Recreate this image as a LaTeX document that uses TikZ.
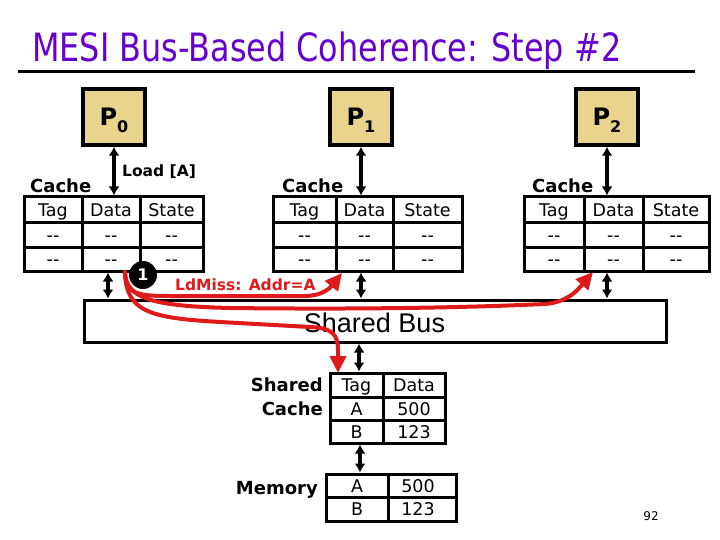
\documentclass[tikz,border=0pt]{standalone}
\usepackage{fontspec}
\setmainfont{DejaVu Sans}
\newfontfamily\arialf{Liberation Sans}
\usetikzlibrary{arrows.meta}
\definecolor{titlepurple}{RGB}{102,0,204}
\definecolor{ptan}{RGB}{232,212,140}
\definecolor{redarrow}{RGB}{222,26,26}
\tikzset{
  pbox/.style={draw, line width=3.5pt, fill=ptan, minimum width=62pt, minimum height=56pt, inner sep=0pt},
  ptext/.style={font=\bfseries\fontsize{24}{24}\selectfont, inner sep=0pt},
  tbl/.style={draw, line width=3pt, inner sep=0pt},
  tline/.style={line width=3pt},
  cell/.style={font=\fontsize{17.5}{17.5}\selectfont, inner sep=0pt, anchor=base},
  lbl/.style={font=\bfseries\fontsize{18}{18}\selectfont, inner sep=0pt},
  dbl/.style={line width=3.2pt, {Latex[length=9pt,width=11pt]}-{Latex[length=9pt,width=11pt]}},
  redarr/.style={draw=redarrow, line width=4pt, -{Triangle[length=17pt,width=16pt]}, line cap=round},
}
\newcommand\mycachetable[5]{%
  \pgfmathsetmacro\tw{#5-#2}%
  \pgfmathsetmacro\tcx{(#2+#5)/2}%
  \pgfmathsetmacro\ca{(#2+#3)/2}%
  \pgfmathsetmacro\cb{(#3+#4)/2}%
  \pgfmathsetmacro\cc{(#4+#5)/2}%
  \node[tbl, minimum width=\tw pt, minimum height=74pt] (#1) at (\tcx,234) {};
  \draw[tline] (#2,223) -- (#5,223) (#2,247) -- (#5,247) (#3,197) -- (#3,271) (#4,197) -- (#4,271);
  \node[cell] (#1-h1) at (\ca,216.5) {Tag};
  \node[cell] (#1-h2) at (\cb,216.5) {Data};
  \node[cell] (#1-h3) at (\cc,216.5) {State};
  \node[cell] (#1-a1) at (\ca,241.5) {-{}-};
  \node[cell] (#1-a2) at (\cb,241.5) {-{}-};
  \node[cell] (#1-a3) at (\cc,241.5) {-{}-};
  \node[cell] (#1-b1) at (\ca,265.5) {-{}-};
  \node[cell] (#1-b2) at (\cb,265.5) {-{}-};
  \node[cell] (#1-b3) at (\cc,265.5) {-{}-};
}
\begin{document}
\begin{tikzpicture}[x=1pt,y=-1pt]
\useasboundingbox (0,0) rectangle (720,540);
% title
\node[anchor=base west, text=titlepurple, font=\fontsize{39}{39}\selectfont, inner sep=0pt] (title) at (32,62) {\scalebox{0.817}[1]{MESI Bus-Based Coherence: Step \#2}};
\coordinate (tl0) at (18,72);
\coordinate (tl1) at (695,72);
\draw[line width=3pt] (tl0) -- (tl1);
% processors
\node[pbox] (p0) at (114,117) {};
\node[pbox] (p1) at (361,117) {};
\node[pbox] (p2) at (607,117) {};
\node[ptext] (p0t) at (114,120) {P\raisebox{-7pt}{\fontsize{16}{16}\selectfont 0}};
\node[ptext] (p1t) at (361,120) {P\raisebox{-7pt}{\fontsize{16}{16}\selectfont 1}};
\node[ptext] (p2t) at (607,120) {P\raisebox{-7pt}{\fontsize{16}{16}\selectfont 2}};
% caches
\mycachetable{c0}{24}{82}{140}{203}
\mycachetable{c1}{273}{336}{393}{462}
\mycachetable{c2}{524}{584}{643}{709}
\node[lbl, anchor=base west] (c0l) at (30,193) {Cache};
\node[lbl, anchor=base west] (c1l) at (282,193) {Cache};
\node[lbl, anchor=base west] (c2l) at (532,193) {Cache};
\node[font=\bfseries\fontsize{15.5}{15.5}\selectfont, inner sep=0pt, anchor=base west] (load) at (122,177) {Load [A]};
% P to cache arrows
\draw[dbl] (p0.south) -- (p0.south |- c0.north);
\draw[dbl] (p1.south) -- (p1.south |- c1.north);
\draw[dbl] (p2.south) -- (p2.south |- c2.north);
% bus
\node[draw, line width=3pt, minimum width=582pt, minimum height=42pt, inner sep=0pt] (bus) at (375,321) {};
\node[font=\arialf\fontsize{27}{27}\selectfont, inner sep=0pt, anchor=base] (bust) at (374.5,332) {Shared Bus};
\draw[dbl] ([xshift=-5.5pt]c0.south) -- ([xshift=-5.5pt]c0.south |- bus.north);
\draw[dbl] (p1.south |- c1.south) -- (p1.south |- bus.north);
\draw[dbl] (p2.south |- c2.south) -- (p2.south |- bus.north);
% shared cache
\node[tbl, minimum width=115pt, minimum height=70pt] (sc) at (387.5,408) {};
\draw[tline] (330,397) -- (445,397) (330,420) -- (445,420) (383,373) -- (383,443);
\node[cell] (sch1) at (356.5,391.5) {Tag};
\node[cell] (sch2) at (414,391.5) {Data};
\node[cell] (sca1) at (356.5,415) {A};
\node[cell] (sca2) at (414,415) {500};
\node[cell] (scb1) at (356.5,438) {B};
\node[cell] (scb2) at (414,438) {123};
\node[lbl, anchor=base east] (scl1) at (323,391.5) {Shared};
\node[lbl, anchor=base east] (scl2) at (323,415) {Cache};
\draw[dbl] ([xshift=-28.5pt]sc.north |- bus.south) -- ([xshift=-28.5pt]sc.north);
% memory
\node[tbl, minimum width=130pt, minimum height=47pt] (mem) at (391,497.5) {};
\draw[tline] (326,497) -- (456,497) (388,474) -- (388,521);
\node[cell] (ma1) at (357,492) {A};
\node[cell] (ma2) at (418,492) {500};
\node[cell] (mb1) at (357,515.5) {B};
\node[cell] (mb2) at (418,515.5) {123};
\node[lbl, anchor=base east] (meml) at (318,494) {Memory};
\draw[dbl] ([xshift=-27.5pt]sc.south) -- ([xshift=-27.5pt]sc.south |- mem.north);
% red arrows
\coordinate (rs) at (125,272);
\coordinate (r1) at (342,273);
\coordinate (r2) at (593,272);
\coordinate (r3) at (338,373);
\draw[redarr] (rs) .. controls (125,295) and (140,296) .. (170,296) -- (305,296) .. controls (322,296) and (330,288) .. (r1);
\draw[redarr] (rs) .. controls (126,298) and (150,306) .. (230,308) .. controls (400,310) and (500,306) .. (545,304) .. controls (570,302) and (580,287) .. (r2);
\draw[redarr] (rs) .. controls (126,312) and (150,318) .. (220,322) -- (310,327) .. controls (333,328) and (338,335) .. (338,350) -- (r3);
\node[font=\bfseries\fontsize{15.5}{15.5}\selectfont, text=redarrow, inner sep=0pt, anchor=base west] (ldmiss) at (175,290) {LdMiss: Addr=A};
\node[circle, fill=black, minimum size=28pt, inner sep=0pt, text=white, font=\bfseries\fontsize{16}{16}\selectfont] (one) at (143,275) {1};
% page number
\node[font=\fontsize{12}{12}\selectfont, inner sep=0pt] (pg) at (651,516) {92};
\end{tikzpicture}
\end{document}
